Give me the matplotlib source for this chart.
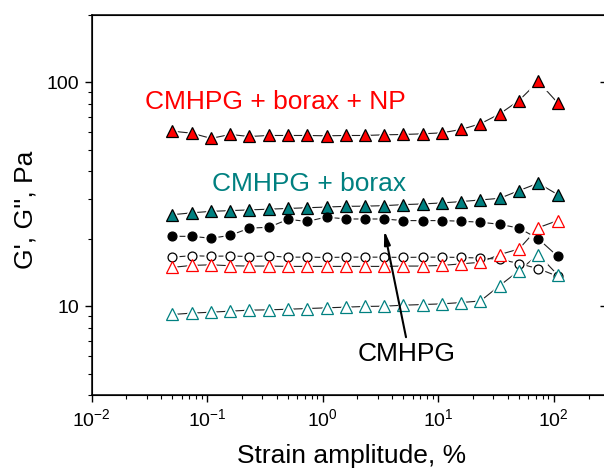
import matplotlib
matplotlib.use('Agg')
import matplotlib.pyplot as plt
from matplotlib.ticker import FuncFormatter, NullFormatter, NullLocator

plt.rcParams['font.family'] = 'Liberation Sans'
plt.rcParams['mathtext.fontset'] = 'custom'
plt.rcParams['mathtext.rm'] = 'Liberation Sans'
plt.rcParams['axes.unicode_minus'] = False

# strain amplitude, %
strain = [0.05, 0.0734, 0.108, 0.158, 0.232, 0.341, 0.5, 0.734, 1.08, 1.58, 2.32,
          3.41, 5.0, 7.34, 10.8, 15.8, 23.2, 34.1, 50.0, 73.4, 108]

# CMHPG + borax + NP
np_g1 = [60.4, 59.2, 56.1, 58.4, 57.2, 57.8, 57.8, 57.8, 57.6, 57.8, 57.8,
         58.2, 58.4, 58.8, 59.4, 61.5, 65.2, 72.2, 82.8, 100.7, 80.9]
np_g2 = [14.9, 15.2, 15.3, 15.15, 15.1, 15.1, 15.05, 15.05, 15.05, 15.05, 15.05,
         15.05, 15.1, 15.1, 15.2, 15.45, 15.7, 17.0, 18.0, 22.4, 24.1]

# CMHPG + borax
bx_g1 = [25.6, 26.1, 26.5, 26.7, 26.9, 27.1, 27.3, 27.5, 27.7, 27.9, 27.95,
         28.1, 28.4, 28.6, 28.9, 29.3, 29.8, 30.3, 32.8, 35.4, 31.5]
bx_g2 = [9.18, 9.31, 9.40, 9.50, 9.60, 9.63, 9.69, 9.76, 9.83, 9.90, 9.97,
         10.0, 10.1, 10.17, 10.24, 10.38, 10.55, 12.36, 14.4, 17.0, 13.8]

# CMHPG
cm_g1 = [20.5, 20.5, 20.1, 20.7, 22.3, 22.5, 24.4, 23.9, 25.0, 24.5, 24.5,
         24.5, 24.1, 24.1, 24.1, 23.95, 23.7, 23.2, 22.3, 20.0, 16.7]
cm_g2 = [16.55, 16.8, 16.7, 16.75, 16.65, 16.75, 16.55, 16.55, 16.5, 16.55, 16.55,
         16.55, 16.5, 16.55, 16.55, 16.5, 16.4, 16.2, 15.5, 14.7, 13.6]

red = '#ff0000'
teal = '#008080'

fig = plt.figure(figsize=(6.04, 4.70), dpi=100)
ax = fig.add_axes([0.1518, 0.1589, 0.852, 0.8098])

# (y, marker, face, edge, size, halo)
series = [
    (np_g1, '^', red, 'black', 8.2, 4.5),
    (bx_g1, '^', teal, 'black', 8.2, 4.5),
    (cm_g1, 'o', 'black', 'black', 6.4, 2.8),
    (cm_g2, 'o', 'white', 'black', 6.4, 2.8),
    (np_g2, '^', 'white', red, 8.2, 4.5),
    (bx_g2, '^', 'white', teal, 8.2, 4.5),
]

for y, m, fc, ec, ms, halo in series:
    ax.plot(strain, y, '-', color='#202020', lw=0.8, zorder=1)
    # white halo -> gap between line and symbol
    ax.plot(strain, y, ls='none', marker=m, ms=ms + halo, mfc='white', mec='white', zorder=2)
for y, m, fc, ec, ms, halo in series:
    ax.plot(strain, y, ls='none', marker=m, ms=ms, mfc=fc, mec=ec, mew=0.9, zorder=3)

ax.set_xscale('log')
ax.set_yscale('log')
ax.set_xlim(0.01, 285)
ax.set_ylim(4, 200)

ax.yaxis.set_major_formatter(FuncFormatter(lambda v, p: '%g' % v))
ax.yaxis.set_minor_formatter(NullFormatter())
ax.xaxis.set_minor_formatter(NullFormatter())

for s in ax.spines.values():
    s.set_linewidth(1.1)
ax.tick_params(which='major', direction='out', length=5, width=1, labelsize=14, pad=4)
ax.tick_params(which='minor', direction='out', length=2.8, width=0.8)

# right side: only short inward major ticks
ax2 = ax.twinx()
ax2.set_yscale('log')
ax2.set_ylim(4, 200)
ax2.yaxis.set_minor_locator(NullLocator())
ax2.tick_params(axis='y', which='major', direction='in', length=4, width=1, labelright=False)

ax.set_xlabel('Strain amplitude, %', fontsize=19)
ax.set_ylabel("G', G'', Pa", fontsize=19)
ax.xaxis.set_label_coords(0.505, -0.127)
ax.yaxis.set_label_coords(-0.105, 0.487)

ax.text(0.0289, 76.1, 'CMHPG + borax + NP', color=red, fontsize=19, ha='left', va='baseline')
ax.text(0.109, 32.6, 'CMHPG + borax', color=teal, fontsize=19, ha='left', va='baseline')
ax.text(2.01, 5.68, 'CMHPG', color='black', fontsize=19, ha='left', va='baseline')

ax.annotate('', xy=(3.41, 21.8), xytext=(5.26, 7.27),
            arrowprops=dict(arrowstyle='-|>,head_length=0.8,head_width=0.18',
                            color='black', lw=1.5, shrinkA=0, shrinkB=0))

fig.savefig('out.png', dpi=100)
